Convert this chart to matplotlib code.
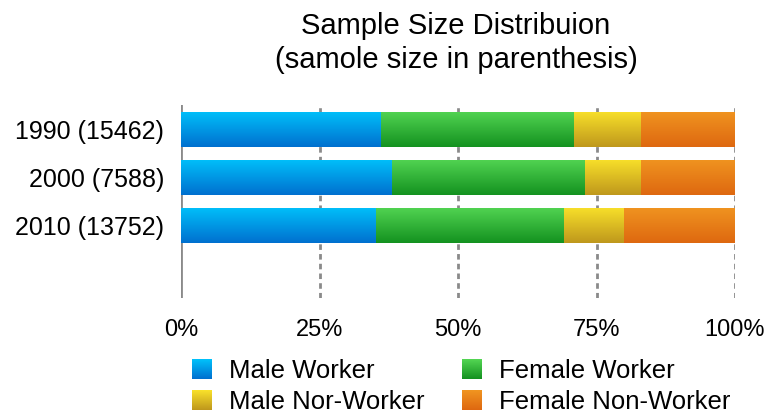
import numpy as np
import matplotlib
matplotlib.use('Agg')
import matplotlib.pyplot as plt
from matplotlib.patches import Rectangle
from matplotlib.legend_handler import HandlerBase
from matplotlib.colors import to_rgb

plt.rcParams['font.family'] = ['Liberation Sans', 'DejaVu Sans']

anos = ['1990 (15462)', '2000 (7588)', '2010 (13752)']
series = ['Male Worker', 'Female Worker', 'Male Nor-Worker', 'Female Non-Worker']
male_worker = [36.1, 38.0, 35.2]
female_worker = [34.9, 35.0, 33.9]
male_non = [12.1, 10.1, 10.9]
female_non = [16.9, 16.9, 20.0]
valores = [male_worker, female_worker, male_non, female_non]

# cor do topo e da base de cada gradiente
cores = [('#00c0fa', '#0070cf'),
         ('#52d452', '#149220'),
         ('#f8e02a', '#bf981c'),
         ('#f09420', '#de6810')]


def gradiente(top, bot, n=64):
    t = np.linspace(0, 1, n)[:, None]
    a = np.array(to_rgb(top))[None, :]
    b = np.array(to_rgb(bot))[None, :]
    return (a * (1 - t) + b * t)[:, None, :]


class HandlerGrad(HandlerBase):
    def __init__(self, top, bot):
        super().__init__()
        self.top, self.bot = top, bot

    def create_artists(self, legend, orig_handle, xdescent, ydescent,
                       width, height, fontsize, trans):
        n = 20
        arts = []
        g = gradiente(self.top, self.bot, n)[:, 0, :]
        for i in range(n):
            y0 = -ydescent + height * (1 - (i + 1) / n)
            r = Rectangle((-xdescent, y0), width, height / n + 0.3,
                          facecolor=g[i], edgecolor='none', transform=trans)
            arts.append(r)
        return arts


fig = plt.figure(figsize=(7.68, 4.16), dpi=100)
ax = fig.add_axes([181 / 768, 1 - 298 / 416, (735 - 181) / 768, 193 / 416])

y = np.arange(len(anos))
esquerda = np.zeros(len(anos))
handles = []
for vals, (top, bot), nome in zip(valores, cores, series):
    bars = ax.barh(y, vals, left=esquerda, height=0.73, color=bot,
                   label=nome, zorder=2)
    for p in bars.patches:
        x0, y0 = p.get_x(), p.get_y()
        w, h = p.get_width(), p.get_height()
        im = ax.imshow(gradiente(top, bot), extent=[x0, x0 + w, y0 + h, y0],
                       aspect='auto', zorder=3, interpolation='bilinear')
        im.set_clip_path(p)
    handles.append(bars)
    esquerda += np.array(vals)

ax.set_xlim(0, 100)
ax.set_ylim(3.5, -0.5)
ax.set_yticks(y)
ax.set_yticklabels(anos)
ax.set_xticks([0, 25, 50, 75, 100])
ax.set_xticklabels(['0%', '25%', '50%', '75%', '100%'])
ax.tick_params(length=0, labelsize=17)
ax.tick_params(axis='y', pad=12, labelsize=18)
ax.tick_params(axis='x', pad=15)
for s in ax.spines.values():
    s.set_visible(False)

ax.axvline(0, color='#8a8a8a', lw=2, zorder=1)
for xv in [25, 50, 75, 100]:
    ax.axvline(xv, color='#8a8a8a', lw=2, ls=(0, (2, 1.5)), zorder=1)

fig.text(456 / 768, 1 - 34 / 416, 'Sample Size Distribuion',
         ha='center', va='baseline', fontsize=21)
fig.text(456 / 768, 1 - 68 / 416, '(samole size in parenthesis)',
         ha='center', va='baseline', fontsize=21)

ordem = [0, 2, 1, 3]
hmap = {handles[i]: HandlerGrad(*cores[i]) for i in range(4)}
ax.legend([handles[i] for i in ordem], [series[i] for i in ordem],
          handler_map=hmap, ncol=2, frameon=False, fontsize=18.5,
          loc='upper left', bbox_to_anchor=(192 / 768, 1 - 359 / 416),
          bbox_transform=fig.transFigure, borderpad=0, borderaxespad=0,
          handlelength=0.78, handleheight=0.82, handletextpad=0.66,
          columnspacing=1.45, labelspacing=0.28)

fig.savefig('out.png', dpi=100)
